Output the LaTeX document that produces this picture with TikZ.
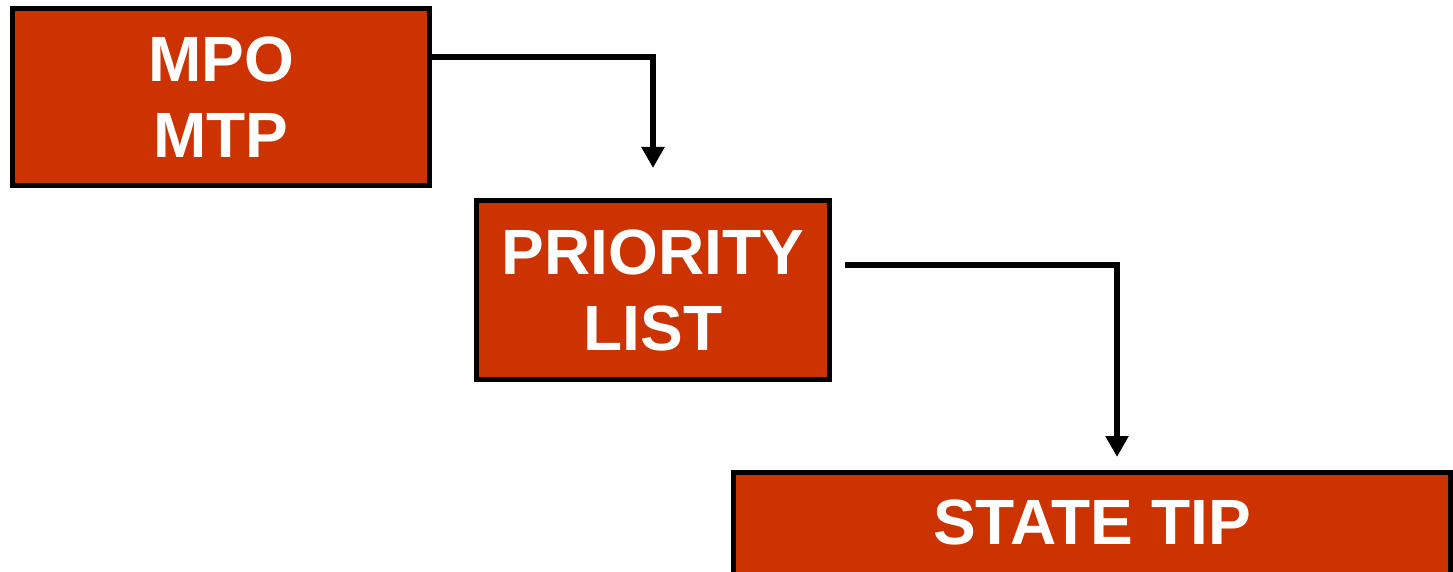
\documentclass[tikz,border=0pt]{standalone}
\usepackage{fontspec}
\setmainfont{Liberation Sans}
\usetikzlibrary{arrows.meta}
\definecolor{boxred}{RGB}{204,51,0}
\tikzset{
  box/.style={draw=black, line width=5pt, fill=boxred, text=white, inner sep=0pt,
    align=center, font=\bfseries\fontsize{64}{76}\selectfont},
  arr/.style={draw=black, line width=6pt, miter limit=10, -{Triangle[length=21pt,width=22pt]}}
}
\begin{document}
\begin{tikzpicture}[x=1pt,y=-1pt]
\useasboundingbox (0,0) rectangle (1453,572);
\clip (0,0) rectangle (1453,572);
\node[box, minimum width=417pt, minimum height=177pt] (b1) at (221,97) {MPO\\MTP};
\node[box, minimum width=353pt, minimum height=179pt] (b2) at (653,290) {PRIORITY\\LIST};
\node[box, minimum width=717pt, minimum height=104.5pt] (b3) at (1092,524.75) {\raisebox{5pt}{STATE TIP}};
\draw[arr, shorten >=30pt] ([yshift=40pt]b1.east) -| (b2.north);
\draw[arr, shorten <=13pt, shorten >=13pt] ([yshift=25pt]b2.east) -| ([xshift=25pt]b3.north);
\end{tikzpicture}
\end{document}
